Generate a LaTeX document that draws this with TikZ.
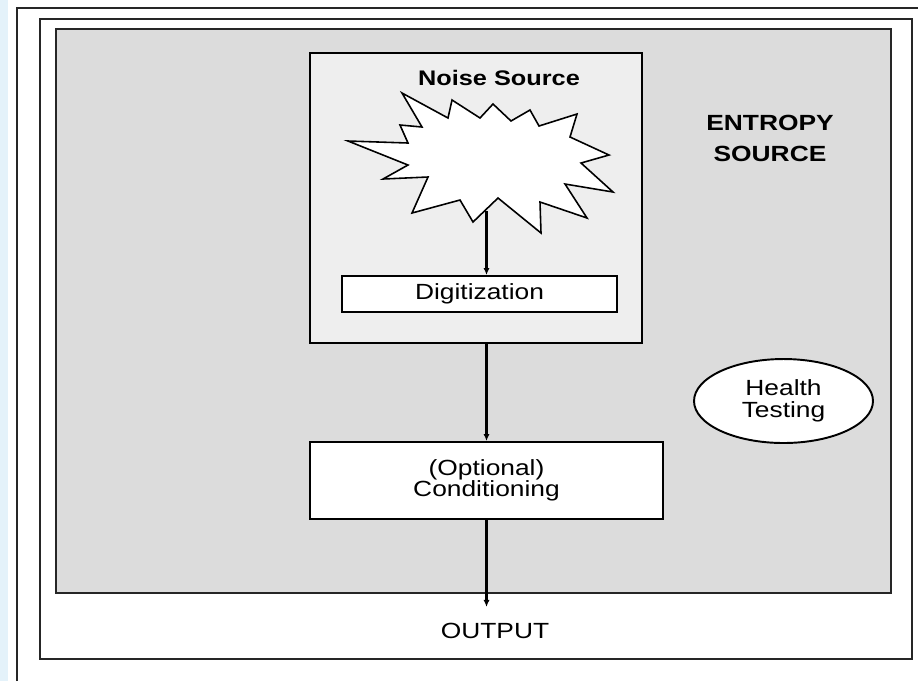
\documentclass[tikz,border=0pt]{standalone}
\usepackage{fontspec}
\setmainfont{Liberation Sans}[FakeStretch=1.2]
\usetikzlibrary{shapes.geometric,arrows.meta}
\definecolor{strip}{HTML}{E4F2FA}
\definecolor{entgray}{HTML}{DCDCDC}
\definecolor{noisegray}{HTML}{EEEEEE}

\begin{document}
\begin{tikzpicture}[x=0.02cm,y=-0.02cm,
		frame/.style={draw=black!85,line width=1.1pt,inner sep=0pt},
		box/.style={draw,line width=1.1pt,fill=white,inner sep=0pt,
			font=\fontsize{12.5}{12}\selectfont,align=center},
		txt/.style={inner sep=0pt,font=\fontsize{12.5}{12.5}\selectfont,align=center},
		flow/.style={-{Latex[length=4pt,width=3.5pt]},line width=1.4pt}]
	\useasboundingbox (0,0) rectangle (918,681);
	\fill[strip] (0,0) rectangle (8,681);
	\draw[frame] (17,681) |- (918,8);
	\node[frame,fill=white,minimum width=17.44cm,minimum height=12.8cm] (outer) at (476,339) {};
	\node[frame,fill=entgray,minimum width=16.7cm,minimum height=11.28cm] (entropy) at (473.5,311) {};
	\node[box,fill=noisegray,minimum width=6.64cm,minimum height=5.8cm] (noise) at (476,198) {};
	\node[txt,font=\fontsize{12}{12}\selectfont\bfseries,anchor=base] (noiselbl) at (499,85) {Noise Source};
	\draw[fill=white,line width=0.9pt,line join=miter]
		(402,93) -- (448,118) -- (452,100) -- (480,118) -- (493,104) -- (511,121)
		-- (530,110) -- (539,126) -- (577,114) -- (570,137) -- (609,155) -- (581,163)
		-- (613,192) -- (565,184) -- (587,218) -- (540,202) -- (541,233) -- (498,198)
		-- (473,222) -- (460,200) -- (412,213) -- (428,177) -- (383,179) -- (408,165)
		-- (348,141) -- (408,143) -- (400,125) -- (422,127) -- cycle;
	\coordinate (starbot) at (486.5,211);
	\node[box,minimum width=5.5cm,minimum height=0.72cm] (digit) at (479.5,294) {Digitization};
	\node[box,minimum width=7.06cm,minimum height=1.54cm] (cond) at (486.5,480.5) {(Optional)\\Conditioning};
	\node[box,ellipse,minimum width=3.58cm,minimum height=1.68cm,
		font=\fontsize{12.5}{12.5}\selectfont] (health) at (783.5,401) {Health\\Testing};
	\node[txt,font=\fontsize{12.5}{18}\selectfont\bfseries] (entlbl) at (770,138.5) {ENTROPY\\SOURCE};
	\node[txt,anchor=base] (output) at (495,638) {OUTPUT};
	\coordinate (outtip) at (486.5,607);
	\draw[flow] (starbot) -- (starbot |- digit.north);
	\draw[flow] (noise.south -| cond.north) -- (cond.north);
	\draw[flow] (cond.south) -- (outtip);
\end{tikzpicture}
\end{document}
